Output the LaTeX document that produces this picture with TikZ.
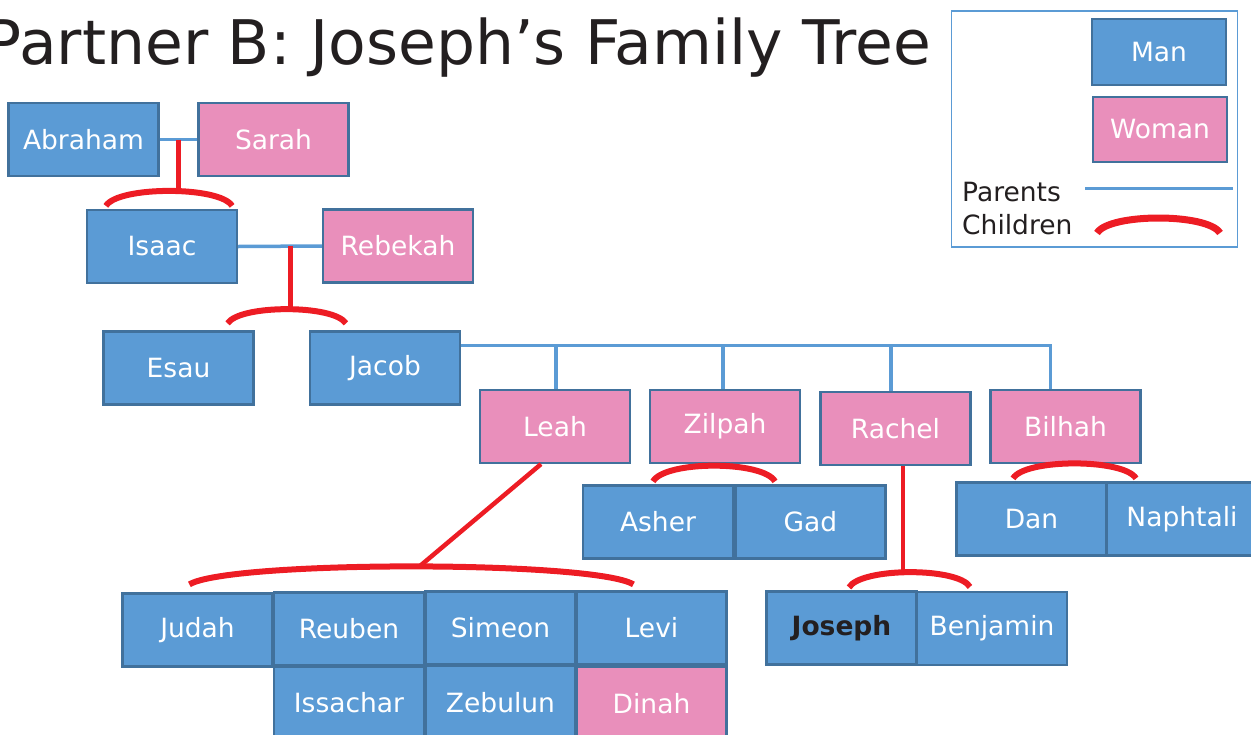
\documentclass[tikz,border=0pt]{standalone}
\usepackage{fontspec}
\setmainfont{DejaVu Sans}
\usetikzlibrary{calc}
\definecolor{manfill}{HTML}{5B9BD5}
\definecolor{boxline}{HTML}{41719C}
\definecolor{womanfill}{HTML}{E98FBB}
\definecolor{kidred}{HTML}{ED1C24}
\definecolor{parentblue}{HTML}{5B9BD5}
\definecolor{inkblack}{HTML}{231F20}
\begin{document}
\begin{tikzpicture}[x=1pt,y=-1pt,
  person/.style={draw=boxline, line width=2.2pt, minimum width=150pt, minimum height=73pt,
    inner sep=0pt, text=white, font=\fontsize{26.5}{30}\selectfont},
  man/.style={person, fill=manfill},
  woman/.style={person, fill=womanfill},
  parent/.style={draw=parentblue, line width=3.5pt},
  child/.style={draw=kidred, line width=6pt},
  legendtext/.style={anchor=base west, inner sep=0pt, text=inkblack, font=\fontsize{26.5}{30}\selectfont},
]
\useasboundingbox (0,0) rectangle (1251,734);
\clip (0,0) rectangle (1251,734);

% title
\node[anchor=base east, inner sep=0pt, text=inkblack, font=\fontsize{61.5}{64}\selectfont] (title) at (931,64) {Partner B: Joseph’s Family Tree};

% legend
\node[draw=parentblue, line width=1.2pt, minimum width=286pt, minimum height=236pt, inner sep=0pt] (legend) at (1094.5,129) {};
\node[man, minimum width=134pt, minimum height=66pt] (man) at (1159,52) {Man};
\node[woman, minimum width=134pt, minimum height=65pt] (woman) at (1160,129.5) {Woman};
\node[legendtext] (parents) at (962,201) {Parents};
\node[legendtext] (children) at (962,234) {Children};
\coordinate (pl1) at (1085,188);
\coordinate (pl2) at (1233,188);
\draw[parent, line width=3pt] (pl1) -- (pl2);
\coordinate (cl1) at (1097,233);
\coordinate (cl2) at (1220,233);
\draw[child, line width=7pt] (cl1) .. controls +(12,-20) and +(-12,-20) .. (cl2);

% people
\node[man]   (abraham)  at (83.5,139.5) {Abraham};
\node[woman] (sarah)    at (273.5,139.5) {Sarah};
\node[man]   (isaac)    at (162,246.5) {Isaac};
\node[woman] (rebekah)  at (398,246) {Rebekah};
\node[man]   (esau)     at (178.5,368) {Esau};
\node[man]   (jacob)    at (385,368) {Jacob};
\node[woman] (leah)     at (555,426.5) {Leah};
\node[woman] (zilpah)   at (725,426.5) {Zilpah};
\node[woman] (rachel)   at (895.5,428.5) {Rachel};
\node[woman] (bilhah)   at (1065.5,426.5) {Bilhah};
\node[man]   (asher)    at (658,522) {Asher};
\node[man]   (gad)      at (810.5,522) {Gad};
\node[man]   (dan)      at (1031.5,519) {Dan};
\node[man]   (naphtali) at (1182,519) {Naphtali};
\node[man]   (judah)    at (197.5,630) {Judah};
\node[man]   (reuben)   at (349,629) {Reuben};
\node[man]   (simeon)   at (500.5,628) {Simeon};
\node[man]   (levi)     at (651.5,628) {Levi};
\node[man]   (issachar) at (349,703) {Issachar};
\node[man]   (zebulun)  at (500.5,702.5) {Zebulun};
\node[woman] (dinah)    at (651.5,703.5) {Dinah};
\node[man, text=inkblack, font=\fontsize{26.5}{30}\selectfont\bfseries] (joseph) at (841.5,628) {Joseph};
\node[man]   (benjamin) at (992,628.5) {Benjamin};

% Abraham + Sarah -> Isaac
\draw[parent] (abraham.east) -- (sarah.west);
\coordinate (as) at ($(abraham.east)!0.5!(sarah.west)$);
\draw[child, line width=5pt] (as) -- ++(0,53);
\draw[child] ($(isaac.north west)+(20,-3)$) .. controls +(12,-20) and +(-12,-20) .. ($(isaac.north east)+(-6,-3)$);

% Isaac + Rebekah -> Esau, Jacob
\draw[parent] (isaac.east) -- (rebekah.west);
\coordinate (ir) at ($(isaac.east)!0.5!(rebekah.west)+(10,0)$);
\draw[child, line width=5pt] (ir) -- ++(0,65);
\draw[child] ($(esau.north east)+(-27,-7)$) .. controls +(12,-19) and +(-12,-19) .. ($(jacob.north west)+(37,-7)$);

% Jacob + wives
\coordinate (jl) at ($(jacob.north east)+(0,15)$);
\coordinate (ld) at ($(leah.north)+(1,0)$);
\coordinate (zd) at ($(zilpah.north)+(-2,0)$);
\coordinate (rd) at ($(rachel.north)+(-4.5,0)$);
\coordinate (bd) at ($(bilhah.north)+(-15.5,0)$);
\draw[parent, line width=3pt] (jl) -- (jl -| bd) -- (bd);
\draw[parent] (jl -| ld) -- (ld);
\draw[parent] (jl -| zd) -- (zd);
\draw[parent] (jl -| rd) -- (rd);

% Leah -> children
\coordinate (lk) at ($(judah.north west)!0.5!(levi.north east)+(-5,-25)$);
\draw[child, line width=4.5pt] ($(leah.south)+(-14,0)$) -- (lk);
\draw[child] ($(judah.north west)+(68,-8)$) .. controls +(40,-24) and +(-40,-24) .. ($(levi.north west)+(58,-6)$);

% Zilpah -> Asher, Gad
\draw[child] ($(asher.north)+(-5,-3)$) .. controls +(12,-21) and +(-12,-21) .. ($(gad.north)+(-35.5,-3)$);

% Rachel -> Joseph, Benjamin
\coordinate (rk) at ($(rachel.south)+(7.5,0)$);
\draw[child, line width=4.5pt] (rk) -- ++(0,108);
\draw[child] ($(joseph.north)+(7.5,-3)$) .. controls +(12,-20) and +(-12,-20) .. ($(benjamin.north)+(-22,-4)$);

% Bilhah -> Dan, Naphtali
\draw[child] ($(dan.north)+(-18.5,-3)$) .. controls +(12,-20) and +(-12,-20) .. ($(naphtali.north)+(-46,-3)$);
\end{tikzpicture}
\end{document}
